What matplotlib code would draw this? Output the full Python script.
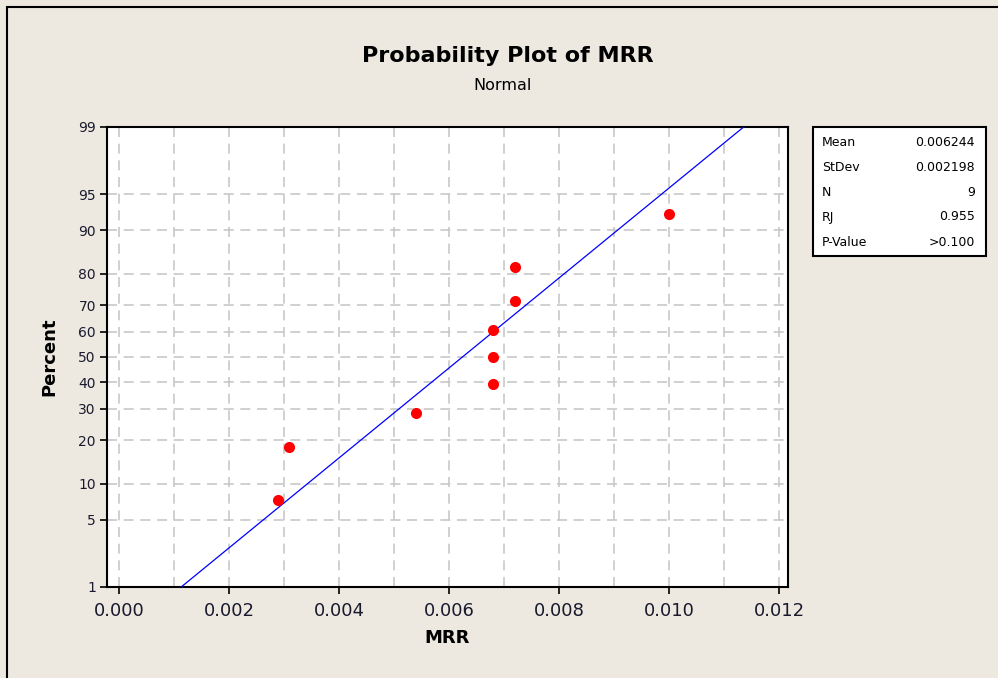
import numpy as np
import matplotlib
matplotlib.use("Agg")
import matplotlib.pyplot as plt
from matplotlib.patches import Rectangle
from statistics import NormalDist

# ---- data ----
mrr = [0.0029, 0.0031, 0.0054, 0.0068, 0.0068, 0.0068, 0.0072, 0.0072, 0.0100]
percent = [7.4, 18.1, 28.7, 39.4, 50.0, 60.6, 71.3, 81.9, 92.6]
fit_mean = 0.006244
fit_stdev = 0.002198
fit_range = [1, 99]
y_ticks = [1, 5, 10, 20, 30, 40, 50, 60, 70, 80, 90, 95, 99]
x_ticks = [0.000, 0.002, 0.004, 0.006, 0.008, 0.010, 0.012]
x_grid = [0.000, 0.001, 0.002, 0.003, 0.004, 0.005, 0.006, 0.007, 0.008, 0.009, 0.010, 0.011, 0.012]
stat_labels = ["Mean", "StDev", "N", "RJ", "P-Value"]
stat_values = ["0.006244", "0.002198", "9", "0.955", ">0.100"]

W, H = 998, 678
BG = "#EDE9E0"
nd = NormalDist()

_fwd1 = np.vectorize(lambda v: nd.inv_cdf(min(max(v, 1e-6), 100 - 1e-6) / 100.0), otypes=[float])
_inv1 = np.vectorize(lambda v: nd.cdf(v) * 100.0, otypes=[float])

def fwd(p):
    return _fwd1(np.asarray(p, dtype=float))

def inv(z):
    return _inv1(np.asarray(z, dtype=float))

fig = plt.figure(figsize=(W / 100, H / 100), dpi=100, facecolor=BG)
plt.rcParams['font.family'] = ['DejaVu Sans']

# outer border
fig.patches.append(Rectangle((7 / W, -0.1), 1.2, (H - 7) / H + 0.1, transform=fig.transFigure,
                             fill=False, edgecolor="black", linewidth=1.5))

def px(x0, y0, x1, y1):
    return [x0 / W, 1 - y1 / H, (x1 - x0) / W, (y1 - y0) / H]

ax = fig.add_axes(px(107, 127, 788, 587))
ax.set_facecolor("white")
ax.set_yscale("function", functions=(fwd, inv))
ax.set_ylim(1, 99)
x0 = 0.0 - 12 / 55000
x1 = 0.0 + (788 - 119) / 55000
ax.set_xlim(x0, x1)

ax.set_yticks(y_ticks)
ax.set_yticklabels([str(t) for t in y_ticks], fontsize=10, color="#1a1a2e")
ax.yaxis.set_minor_locator(matplotlib.ticker.NullLocator())
ax.set_xticks(x_ticks)
ax.set_xticklabels([f"{t:.3f}" for t in x_ticks], fontsize=13, color="#1a1a2e")
ax.set_xticks(x_grid, minor=True)
ax.tick_params(axis="x", which="minor", length=0)
ax.tick_params(axis="both", which="major", direction="out", length=5, width=1.2, color="black")
ax.tick_params(axis="x", pad=6)
ax.tick_params(axis="y", pad=3)

gkw = dict(color="#C8C8C8", linestyle=(0, (6, 4)), linewidth=1.2)
ax.grid(False)
for g in x_grid:
    ax.axvline(g, zorder=0, **gkw)
for t in y_ticks:
    ax.axhline(t, zorder=0, **gkw)

for s in ax.spines.values():
    s.set_linewidth(1.5)
    s.set_color("black")

# fitted line
pz = np.linspace(fit_range[0], fit_range[1], 200)
zz = fwd(pz)
ax.plot(fit_mean + fit_stdev * zz, pz, color="blue", linewidth=0.9, zorder=3)

# points
ax.plot(mrr, percent, "o", color="red", markersize=8, markeredgewidth=0, zorder=4)

ax.set_xlabel("MRR", fontsize=13, fontweight="bold", labelpad=6)
ax.set_ylabel("Percent", fontsize=13, fontweight="bold", labelpad=14)

fig.text(508 / W, 1 - 56 / H, "Probability Plot of MRR", fontsize=16, fontweight="bold",
         ha="center", va="center")
fig.text(503 / W, 1 - 86 / H, "Normal", fontsize=11.5, ha="center", va="center")

# stats box
fig.patches.append(Rectangle((813 / W, 1 - 256 / H), (986 - 813) / W, (256 - 127) / H,
                             transform=fig.transFigure, facecolor="white",
                             edgecolor="black", linewidth=1.5))
rows = [143, 168, 193, 217, 242]
for lab, val, r in zip(stat_labels, stat_values, rows):
    fig.text(822 / W, 1 - r / H, lab, fontsize=9, ha="left", va="center")
    fig.text(975 / W, 1 - r / H, val, fontsize=9, ha="right", va="center")

fig.savefig("out.png", dpi=100, facecolor=BG)
